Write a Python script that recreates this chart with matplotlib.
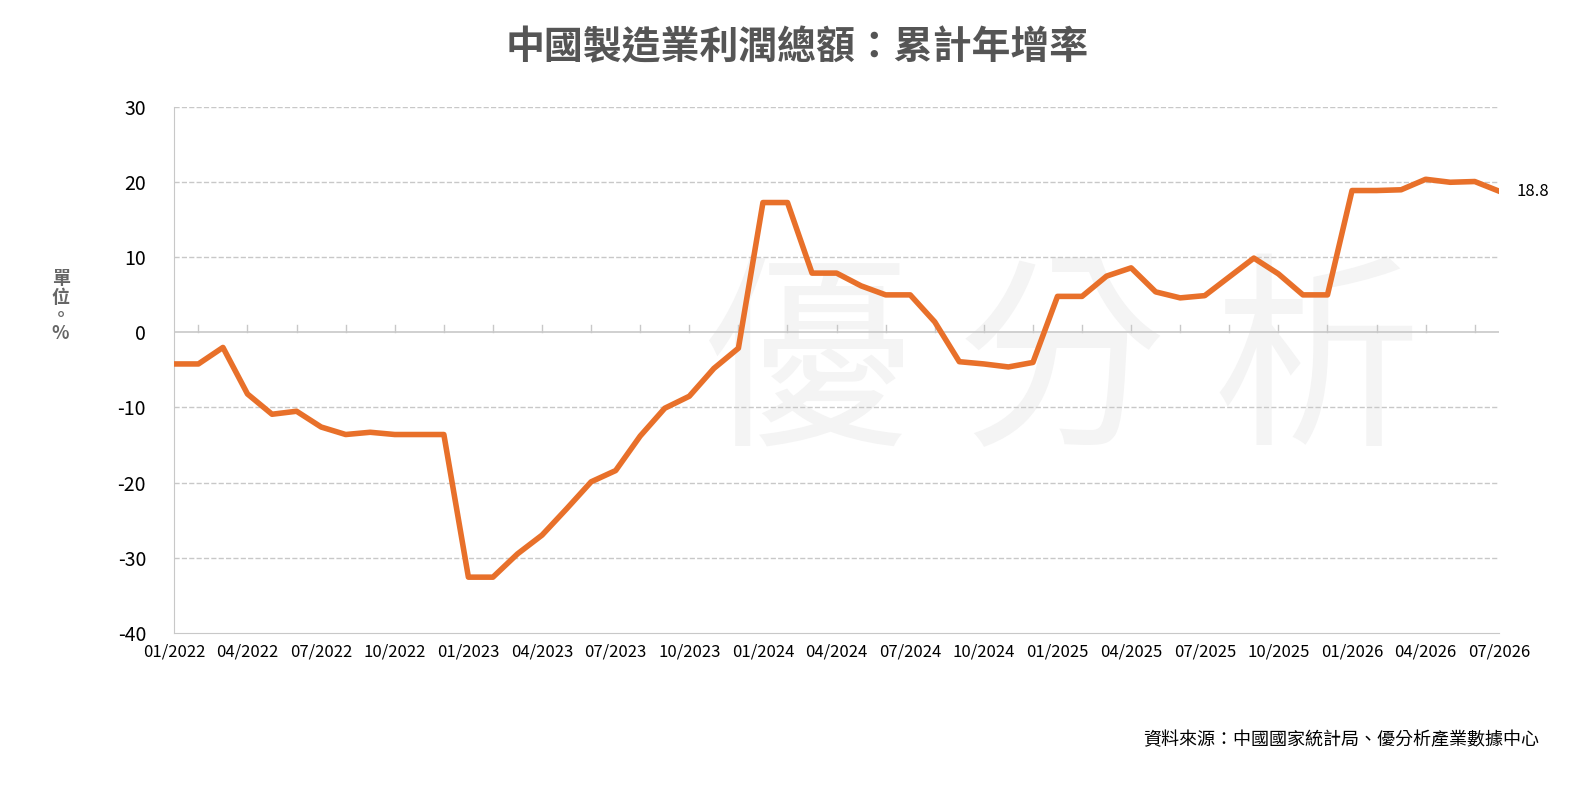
import matplotlib.pyplot as plt
import numpy as np

plt.rcParams['font.family'] = ['Noto Sans CJK TC', 'DejaVu Sans']
plt.rcParams['axes.unicode_minus'] = False

# Monthly cumulative YoY growth, 01/2022 - 07/2026
values = [-4.2, -4.2, -2.0, -8.2, -10.9, -10.5, -12.6, -13.6, -13.3, -13.6, -13.6, -13.6,
          -32.6, -32.6, -29.5, -27.0, -23.5, -19.9, -18.4, -13.8, -10.1, -8.5, -4.8, -2.1,
          17.3, 17.3, 7.9, 7.9, 6.2, 5.0, 5.0, 1.4, -3.9, -4.2, -4.6, -4.0,
          4.8, 4.8, 7.5, 8.6, 5.4, 4.6, 4.9, 7.4, 9.9, 7.8, 5.0, 5.0,
          18.9, 18.9, 19.0, 20.4, 20.0, 20.1, 18.8]
months = [f"{(i % 12) + 1:02d}/{2022 + i // 12}" for i in range(len(values))]

fig = plt.figure(figsize=(15.95, 8.06), dpi=100)
ax = fig.add_axes([0.109, 0.215, 0.831, 0.652])
x = np.arange(len(values))

# watermark
ax.text(0.67, 0.5, '優 分 析', fontsize=150, color='#f4f4f4', ha='center', va='center',
        transform=ax.transAxes, zorder=0)

for y in [-30, -20, -10, 10, 20, 30]:
    ax.axhline(y, color='#c8c8c8', lw=1, ls='--', zorder=1)
ax.axhline(0, color='#c8c8c8', lw=1.2, zorder=1)
for i in range(1, len(values), 2):
    ax.plot([i, i], [0, 1.0], color='#c8c8c8', lw=1, zorder=1)

ax.plot(x, values, color='#e8702a', lw=4, zorder=3)
ax.text(x[-1] + 0.7, values[-1], f"{values[-1]}", fontsize=12, va='center', ha='left')

ax.set_xlim(0, len(values) - 1)
ax.set_ylim(-40, 30)
ax.set_yticks(range(-40, 31, 10))
ax.set_xticks(x[::3])
ax.set_xticklabels(months[::3], fontsize=12)
ax.tick_params(axis='y', labelsize=14, length=0, pad=20)
ax.tick_params(axis='x', length=0, pad=8)
for s in ['top', 'right']:
    ax.spines[s].set_visible(False)
for s in ['left', 'bottom']:
    ax.spines[s].set_color('#c8c8c8')

fig.text(0.038, 0.62, '單\n位\n。\n%', fontsize=13, color='#666666', ha='center', va='center',
         linespacing=0.95, fontweight='bold')
fig.suptitle('中國製造業利潤總額：累計年增率', fontsize=28, fontweight='bold', color='#555555', y=0.965)
fig.text(0.965, 0.075, '資料來源：中國國家統計局、優分析產業數據中心', fontsize=13, ha='right')

fig.savefig('out.png', dpi=100)
